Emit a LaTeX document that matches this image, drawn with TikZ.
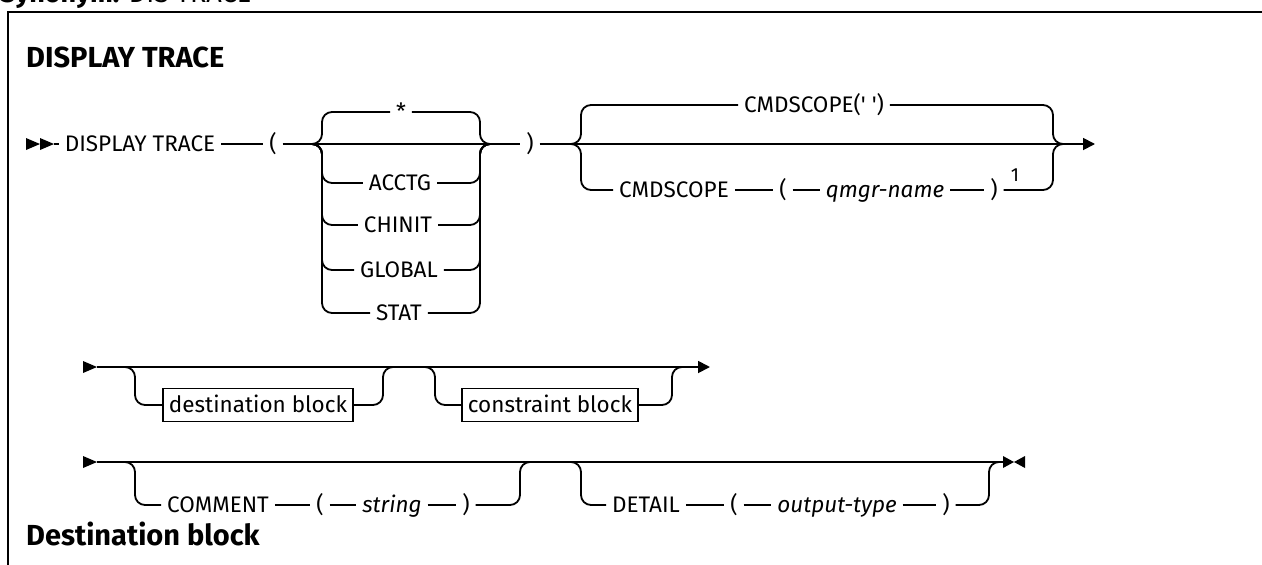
\documentclass[tikz,border=0pt]{standalone}
\usepackage{fontspec}
\setmainfont{Fira Sans}[Ligatures=TeXOff]
\usetikzlibrary{arrows.meta}

\tikzset{
  rail/.style={line width=1.8pt, rounded corners=10pt},
  kw/.style={inner xsep=6pt, inner ysep=0pt, outer sep=0pt, text height=15.5pt, text depth=0pt,
    font=\fontsize{22.5}{26}\selectfont},
  var/.style={kw, font=\fontsize{22.5}{26}\selectfont\itshape},
  blockbox/.style={kw, draw, line width=1.4pt, minimum height=33pt},
  heading/.style={anchor=base west, inner sep=0pt, font=\bfseries\fontsize{29}{32}\selectfont},
  endtip/.style={-{Triangle[length=12pt,width=12pt]}}
}

\begin{document}
\begin{tikzpicture}[x=1pt,y=-1pt]
\useasboundingbox (0,0) rectangle (1262,565);
\clip (0,0) rectangle (1262,565);

% frame and headings
\node[anchor=base west, inner sep=0pt, font=\fontsize{27}{30}\selectfont] (syn) at (0,2) {\textbf{Synonym:} DIS TRACE};
\draw[line width=2.6pt] (1300,12) -- (8,12) -- (8,600);
\node[heading] (hd1) at (26,67) {DISPLAY TRACE};
\node[heading] (hd2) at (26,545) {Destination block};

% first line
\coordinate (s1) at (26,144);
\coordinate (t1) at (54,144);
\fill (s1) -- ++(0,-6) -- ++(14,6) -- ++(-14,6) -- cycle;
\fill ([xshift=14pt]s1) -- ++(0,-6) -- ++(14,6) -- ++(-14,6) -- cycle;
\node[kw] (dtk) at (140,144) {DISPLAY TRACE};
\node[kw] (lpa) at (273,144) {(};
\node[kw] (rpa) at (530,144) {)};
\coordinate (ja) at (322,144);
\coordinate (jb) at (480,144);
\node[kw] (star) at (401,112) {*};
\node[kw] (acc) at (400,183) {ACCTG};
\node[kw] (chi) at (398,225) {CHINIT};
\node[kw] (glo) at (399,270) {GLOBAL};
\node[kw] (sta) at (399,313) {STAT};
\draw[rail] (t1) -- (dtk);
\draw[rail] (dtk) -- (lpa);
\draw[rail] (lpa) -- (rpa);
\foreach \n in {star,acc,chi,glo,sta} {
  \draw[rail] (\n.west) -| (ja) -- ++(-10,0);
  \draw[rail] (\n.east) -| (jb) -- ++(10,0);
}

\coordinate (jc) at (581,144);
\coordinate (jd) at (1053,144);
\coordinate (e1) at (1095,144);
\node[kw] (cmdd) at (814,105) {CMDSCOPE(' ')};
\node[kw] (cmds) at (674,190) {CMDSCOPE};
\node[kw] (lpb) at (783,190) {(};
\node[var] (qmn) at (885,190) {qmgr-name};
\node[kw] (rpb) at (994,190) {)};
\node[inner sep=0pt, font=\fontsize{19}{22}\selectfont] (fn1) at (1015,175) {1};
\draw[rail, endtip] (rpa) -- (e1);
\draw[rail] (cmdd.west) -| (jc) -- ++(-10,0);
\draw[rail] (cmdd.east) -| (jd) -- ++(10,0);
\draw[rail] (cmds.west) -| (jc) -- ++(-10,0);
\draw[rail] (cmds) -- (lpb);
\draw[rail] (lpb) -- (qmn);
\draw[rail] (qmn) -- (rpb);
\draw[rail] (rpb.east) -| (jd) -- ++(10,0);

% second line
\coordinate (s2) at (83,367);
\coordinate (t2) at (97,367);
\coordinate (e2) at (710,367);
\fill (s2) -- ++(0,-6) -- ++(14,6) -- ++(-14,6) -- cycle;
\draw[rail, endtip] (t2) -- (e2);
\coordinate (jf) at (135,367);
\coordinate (jg) at (383,367);
\coordinate (jh) at (435,367);
\coordinate (ji) at (672,367);
\node[blockbox, minimum width=188pt] (dstb) at (258,405) {destination block};
\node[blockbox, minimum width=171pt] (cstb) at (550,405) {constraint block};
\draw[rail] (dstb.west) -| (jf) -- ++(-10,0);
\draw[rail] (dstb.east) -| (jg) -- ++(10,0);
\draw[rail] (cstb.west) -| (jh) -- ++(-10,0);
\draw[rail] (cstb.east) -| (ji) -- ++(10,0);

% third line
\coordinate (s3) at (83,462);
\coordinate (t3) at (97,462);
\coordinate (x3) at (1003,462);
\fill (s3) -- ++(0,-6) -- ++(14,6) -- ++(-14,6) -- cycle;
\draw[rail] (t3) -- (x3);
\fill (x3) -- ++(0,-6) -- ++(11,6) -- ++(-11,6) -- cycle;
\fill ([xshift=22pt]x3) -- ++(0,-6) -- ++(-11,6) -- ++(11,6) -- cycle;
\coordinate (jj) at (135,462);
\coordinate (jk) at (520,462);
\coordinate (jl) at (581,462);
\coordinate (jm) at (989,462);
\node[kw] (cmt) at (218,505) {COMMENT};
\node[kw] (lpc) at (320,505) {(};
\node[var] (strg) at (392,505) {string};
\node[kw] (rpc) at (466,505) {)};
\node[kw] (dtl) at (646,505) {DETAIL};
\node[kw] (lpd) at (734,505) {(};
\node[var] (otp) at (837,505) {output-type};
\node[kw] (rpd) at (946,505) {)};
\draw[rail] (cmt.west) -| (jj) -- ++(-10,0);
\draw[rail] (cmt) -- (lpc);
\draw[rail] (lpc) -- (strg);
\draw[rail] (strg) -- (rpc);
\draw[rail] (rpc.east) -| (jk) -- ++(10,0);
\draw[rail] (dtl.west) -| (jl) -- ++(-10,0);
\draw[rail] (dtl) -- (lpd);
\draw[rail] (lpd) -- (otp);
\draw[rail] (otp) -- (rpd);
\draw[rail] (rpd.east) -| (jm) -- ++(10,0);
\end{tikzpicture}
\end{document}
